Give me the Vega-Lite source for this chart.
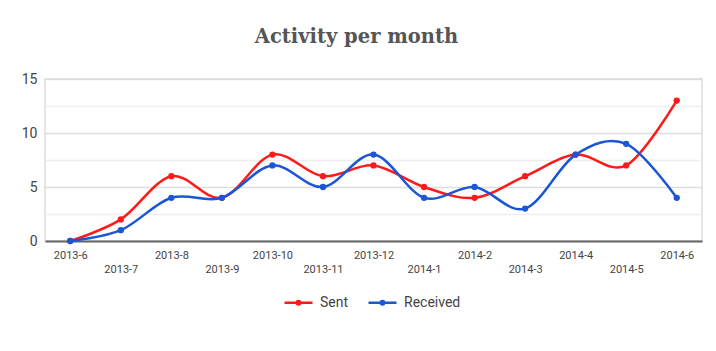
{
  "$schema": "https://vega.github.io/schema/vega-lite/v6.json",
  "autosize": {"type": "none"},
  "width": 657,
  "height": 162,
  "padding": {"left": 45, "top": 79, "right": 14, "bottom": 110},
  "title": {
    "text": "Activity per month",
    "font": "DejaVu Serif",
    "fontSize": 19.5,
    "fontWeight": "bold",
    "color": "#555555",
    "anchor": "middle",
    "frame": "group",
    "dx": -17,
    "offset": 25
  },
  "config": {
    "view": {"stroke": "#dddddd", "strokeWidth": 1.5},
    "font": "Roboto"
  },
  "data": {
    "values": [
      {"month": "2013-6", "series": "Sent", "count": 0},
      {"month": "2013-7", "series": "Sent", "count": 2},
      {"month": "2013-8", "series": "Sent", "count": 6},
      {"month": "2013-9", "series": "Sent", "count": 4},
      {"month": "2013-10", "series": "Sent", "count": 8},
      {"month": "2013-11", "series": "Sent", "count": 6},
      {"month": "2013-12", "series": "Sent", "count": 7},
      {"month": "2014-1", "series": "Sent", "count": 5},
      {"month": "2014-2", "series": "Sent", "count": 4},
      {"month": "2014-3", "series": "Sent", "count": 6},
      {"month": "2014-4", "series": "Sent", "count": 8},
      {"month": "2014-5", "series": "Sent", "count": 7},
      {"month": "2014-6", "series": "Sent", "count": 13},
      {"month": "2013-6", "series": "Received", "count": 0},
      {"month": "2013-7", "series": "Received", "count": 1},
      {"month": "2013-8", "series": "Received", "count": 4},
      {"month": "2013-9", "series": "Received", "count": 4},
      {"month": "2013-10", "series": "Received", "count": 7},
      {"month": "2013-11", "series": "Received", "count": 5},
      {"month": "2013-12", "series": "Received", "count": 8},
      {"month": "2014-1", "series": "Received", "count": 4},
      {"month": "2014-2", "series": "Received", "count": 5},
      {"month": "2014-3", "series": "Received", "count": 3},
      {"month": "2014-4", "series": "Received", "count": 8},
      {"month": "2014-5", "series": "Received", "count": 9},
      {"month": "2014-6", "series": "Received", "count": 4}
    ]
  },
  "mark": {"type": "line", "interpolate": "cardinal", "strokeWidth": 2.5, "point": {"filled": true, "size": 40, "opacity": 1}},
  "encoding": {
    "x": {
      "field": "month",
      "type": "ordinal",
      "sort": null,
      "scale": {"type": "point", "padding": 0.5},
      "axis": {
        "title": null,
        "labelAngle": 0,
        "labelFont": "Roboto",
        "labelFontSize": 11,
        "labelColor": "#444444",
        "ticks": false,
        "domainColor": "#666666",
        "domainWidth": 2,
        "labelBaseline": "top",
        "labelPadding": {
          "condition": {"test": "indexof(['2013-7','2013-9','2013-11','2014-1','2014-3','2014-5'], datum.value) >= 0", "value": 22},
          "value": 8
        }
      }
    },
    "y": {
      "field": "count",
      "type": "quantitative",
      "scale": {"domain": [0, 15], "nice": false},
      "axis": {
        "title": null,
        "values": [0, 2.5, 5, 7.5, 10, 12.5, 15],
        "labelExpr": "datum.value % 5 == 0 ? datum.label : ''",
        "labelFont": "Roboto",
        "labelFontSize": 14,
        "labelColor": "#444444",
        "labelPadding": 8,
        "ticks": false,
        "domain": false,
        "gridWidth": 1.5,
        "gridColor": {
          "condition": {"test": "datum.value % 5 != 0", "value": "#eeeeee"},
          "value": "#dddddd"
        }
      }
    },
    "color": {
      "field": "series",
      "type": "nominal",
      "scale": {"domain": ["Sent", "Received"], "range": ["#ff1a1a", "#1a56d6"]},
      "legend": {
        "title": null,
        "orient": "none",
        "legendX": 238,
        "legendY": 208,
        "direction": "horizontal",
        "labelFont": "Roboto",
        "labelFontSize": 14,
        "labelColor": "#444444",
        "symbolType": "M-1,0L1,0M-0.12,0A0.12,0.12 0 1,1 0.12,0A0.12,0.12 0 1,1 -0.12,0Z",
        "symbolSize": 784,
        "symbolStrokeWidth": 2.5,
        "columnPadding": 14,
        "labelOffset": 6
      }
    }
  }
}
